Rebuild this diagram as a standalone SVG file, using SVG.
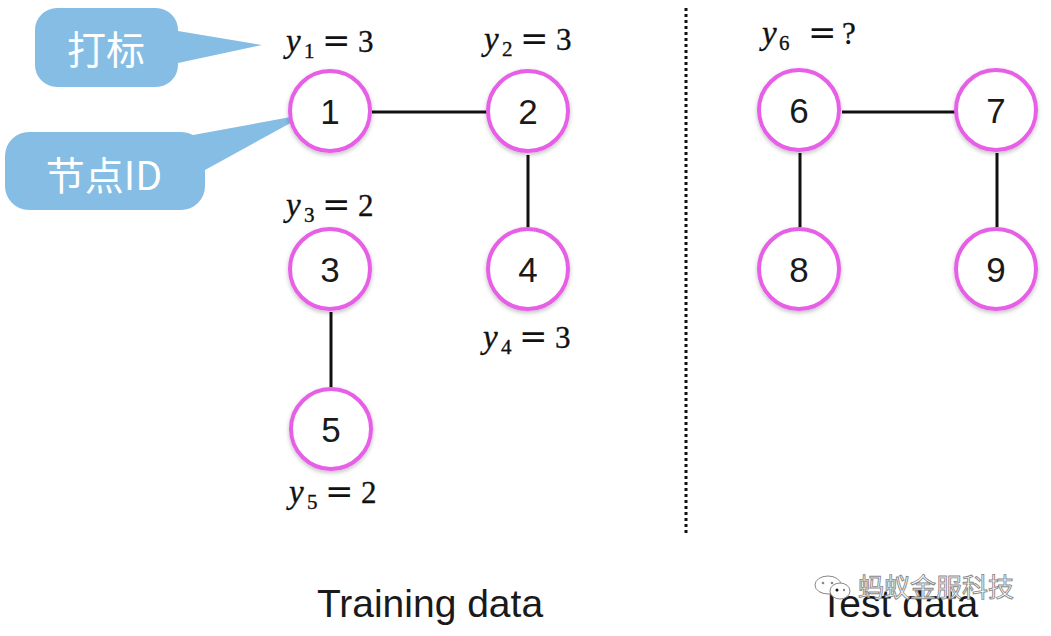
<svg xmlns="http://www.w3.org/2000/svg" width="1051" height="636" viewBox="0 0 1051 636">
<defs>
<filter id="sh" x="-30%" y="-30%" width="160%" height="160%">
<feDropShadow dx="0" dy="2" stdDeviation="2" flood-color="#000" flood-opacity="0.25"/>
</filter>
</defs>
<style>
.node circle{fill:#fff;stroke:#e65fe6;stroke-width:4;filter:url(#sh)}
.node text{font-family:"Liberation Sans",Arial,sans-serif;font-size:35px;fill:#1a1a1a;text-anchor:middle}
.edge{stroke:#111;stroke-width:3;fill:none}
.bub{fill:#86bde4}
.bubt{font-family:"Noto Sans CJK SC","Noto Sans",sans-serif;font-size:39px;fill:#fff;text-anchor:middle}
.m{font-family:"Liberation Serif","Times New Roman",serif;fill:#111;stroke:#111;stroke-width:0.35}
.mi{font-style:italic;font-size:33px}
.ms{font-size:21px}
.me{font-family:"DejaVu Serif",serif;font-size:34px;stroke-width:0}
.md{font-size:31px}
.cap{font-family:"Liberation Sans",Arial,sans-serif;font-size:39px;fill:#1a1a1a;text-anchor:middle}
.wm{font-family:"Noto Sans CJK SC",sans-serif;font-size:26px;fill:#fff;stroke:#888;stroke-width:0.9}
</style>
<rect width="1051" height="636" fill="#fff"/>

<g id="callouts">
<g id="callout-label">
<path class="bub" d="M57,8 H156 A22,22 0 0 1 178,30 V31 L262,45 L178,63 V65 A22,22 0 0 1 156,87 H57 A22,22 0 0 1 35,65 V30 A22,22 0 0 1 57,8 Z"/>
<text class="bubt" x="106" y="64">打标</text>
</g>
<g id="callout-id">
<path class="bub" d="M29,132 H181 A24,24 0 0 1 193,135 L307,114 L205,170 V186 A24,24 0 0 1 181,210 H29 A24,24 0 0 1 5,186 V156 A24,24 0 0 1 29,132 Z"/>
<text class="bubt" x="104" y="190">节点ID</text>
</g>
</g>

<g id="connectors">
<line class="edge" x1="372" y1="112" x2="487" y2="112"/>
<line class="edge" x1="528" y1="155" x2="528" y2="227"/>
<line class="edge" x1="331" y1="312" x2="331" y2="387"/>
<line class="edge" x1="842" y1="112" x2="955" y2="112"/>
<line class="edge" x1="800" y1="153" x2="800" y2="227"/>
<line class="edge" x1="997" y1="153" x2="997" y2="227"/>
</g>

<line id="divider" x1="686" y1="8" x2="686" y2="535" stroke="#111" stroke-width="3" stroke-dasharray="3 3"/>

<g id="n1" class="node"><circle cx="330" cy="111" r="40"/><text x="330" y="124">1</text></g>
<g id="n2" class="node"><circle cx="528" cy="111" r="40"/><text x="528" y="124">2</text></g>
<g id="n3" class="node"><circle cx="330" cy="269" r="40"/><text x="330" y="282">3</text></g>
<g id="n4" class="node"><circle cx="528" cy="269" r="40"/><text x="528" y="282">4</text></g>
<g id="n5" class="node"><circle cx="331" cy="429" r="40"/><text x="331" y="442">5</text></g>
<g id="n6" class="node"><circle cx="799" cy="110" r="40"/><text x="799" y="123">6</text></g>
<g id="n7" class="node"><circle cx="996" cy="110" r="40"/><text x="996" y="123">7</text></g>
<g id="n8" class="node"><circle cx="799" cy="269" r="40"/><text x="799" y="282">8</text></g>
<g id="n9" class="node"><circle cx="996" cy="269" r="40"/><text x="996" y="282">9</text></g>

<g id="labels">
<text class="m"><tspan class="mi" x="286" y="52">y</tspan><tspan class="ms" x="304" y="58">1</tspan><tspan class="me" x="322" y="52">=</tspan><tspan class="md" x="358" y="52">3</tspan></text>
<text class="m"><tspan class="mi" x="484" y="50">y</tspan><tspan class="ms" x="502" y="56">2</tspan><tspan class="me" x="520" y="50">=</tspan><tspan class="md" x="556" y="50">3</tspan></text>
<text class="m"><tspan class="mi" x="286" y="216">y</tspan><tspan class="ms" x="304" y="222">3</tspan><tspan class="me" x="322" y="216">=</tspan><tspan class="md" x="358" y="216">2</tspan></text>
<text class="m"><tspan class="mi" x="483" y="348">y</tspan><tspan class="ms" x="501" y="354">4</tspan><tspan class="me" x="519" y="348">=</tspan><tspan class="md" x="555" y="348">3</tspan></text>
<text class="m"><tspan class="mi" x="289" y="503">y</tspan><tspan class="ms" x="307" y="509">5</tspan><tspan class="me" x="325" y="503">=</tspan><tspan class="md" x="361" y="503">2</tspan></text>
<text class="m"><tspan class="mi" x="762" y="44">y</tspan><tspan class="ms" x="779" y="50">6</tspan><tspan class="me" x="808" y="44">=</tspan><tspan class="md" x="842" y="44">?</tspan></text>
</g>

<text class="cap" x="430" y="617">Training data</text>
<text class="cap" x="899" y="617">Test data</text>

<g id="watermark">
<ellipse cx="828" cy="585" rx="13" ry="9" fill="#fff" stroke="#888" stroke-width="1"/>
<ellipse cx="840" cy="591" rx="10" ry="8" fill="#fff" stroke="#888" stroke-width="1"/>
<circle cx="823" cy="583" r="1.3" fill="#888"/>
<circle cx="832" cy="583" r="1.3" fill="#888"/>
<circle cx="837" cy="590" r="1.5" fill="#111"/>
<circle cx="844" cy="590" r="1.2" fill="#888"/>
<text class="wm" x="858" y="597">蚂蚁金服科技</text>
</g>
</svg>
